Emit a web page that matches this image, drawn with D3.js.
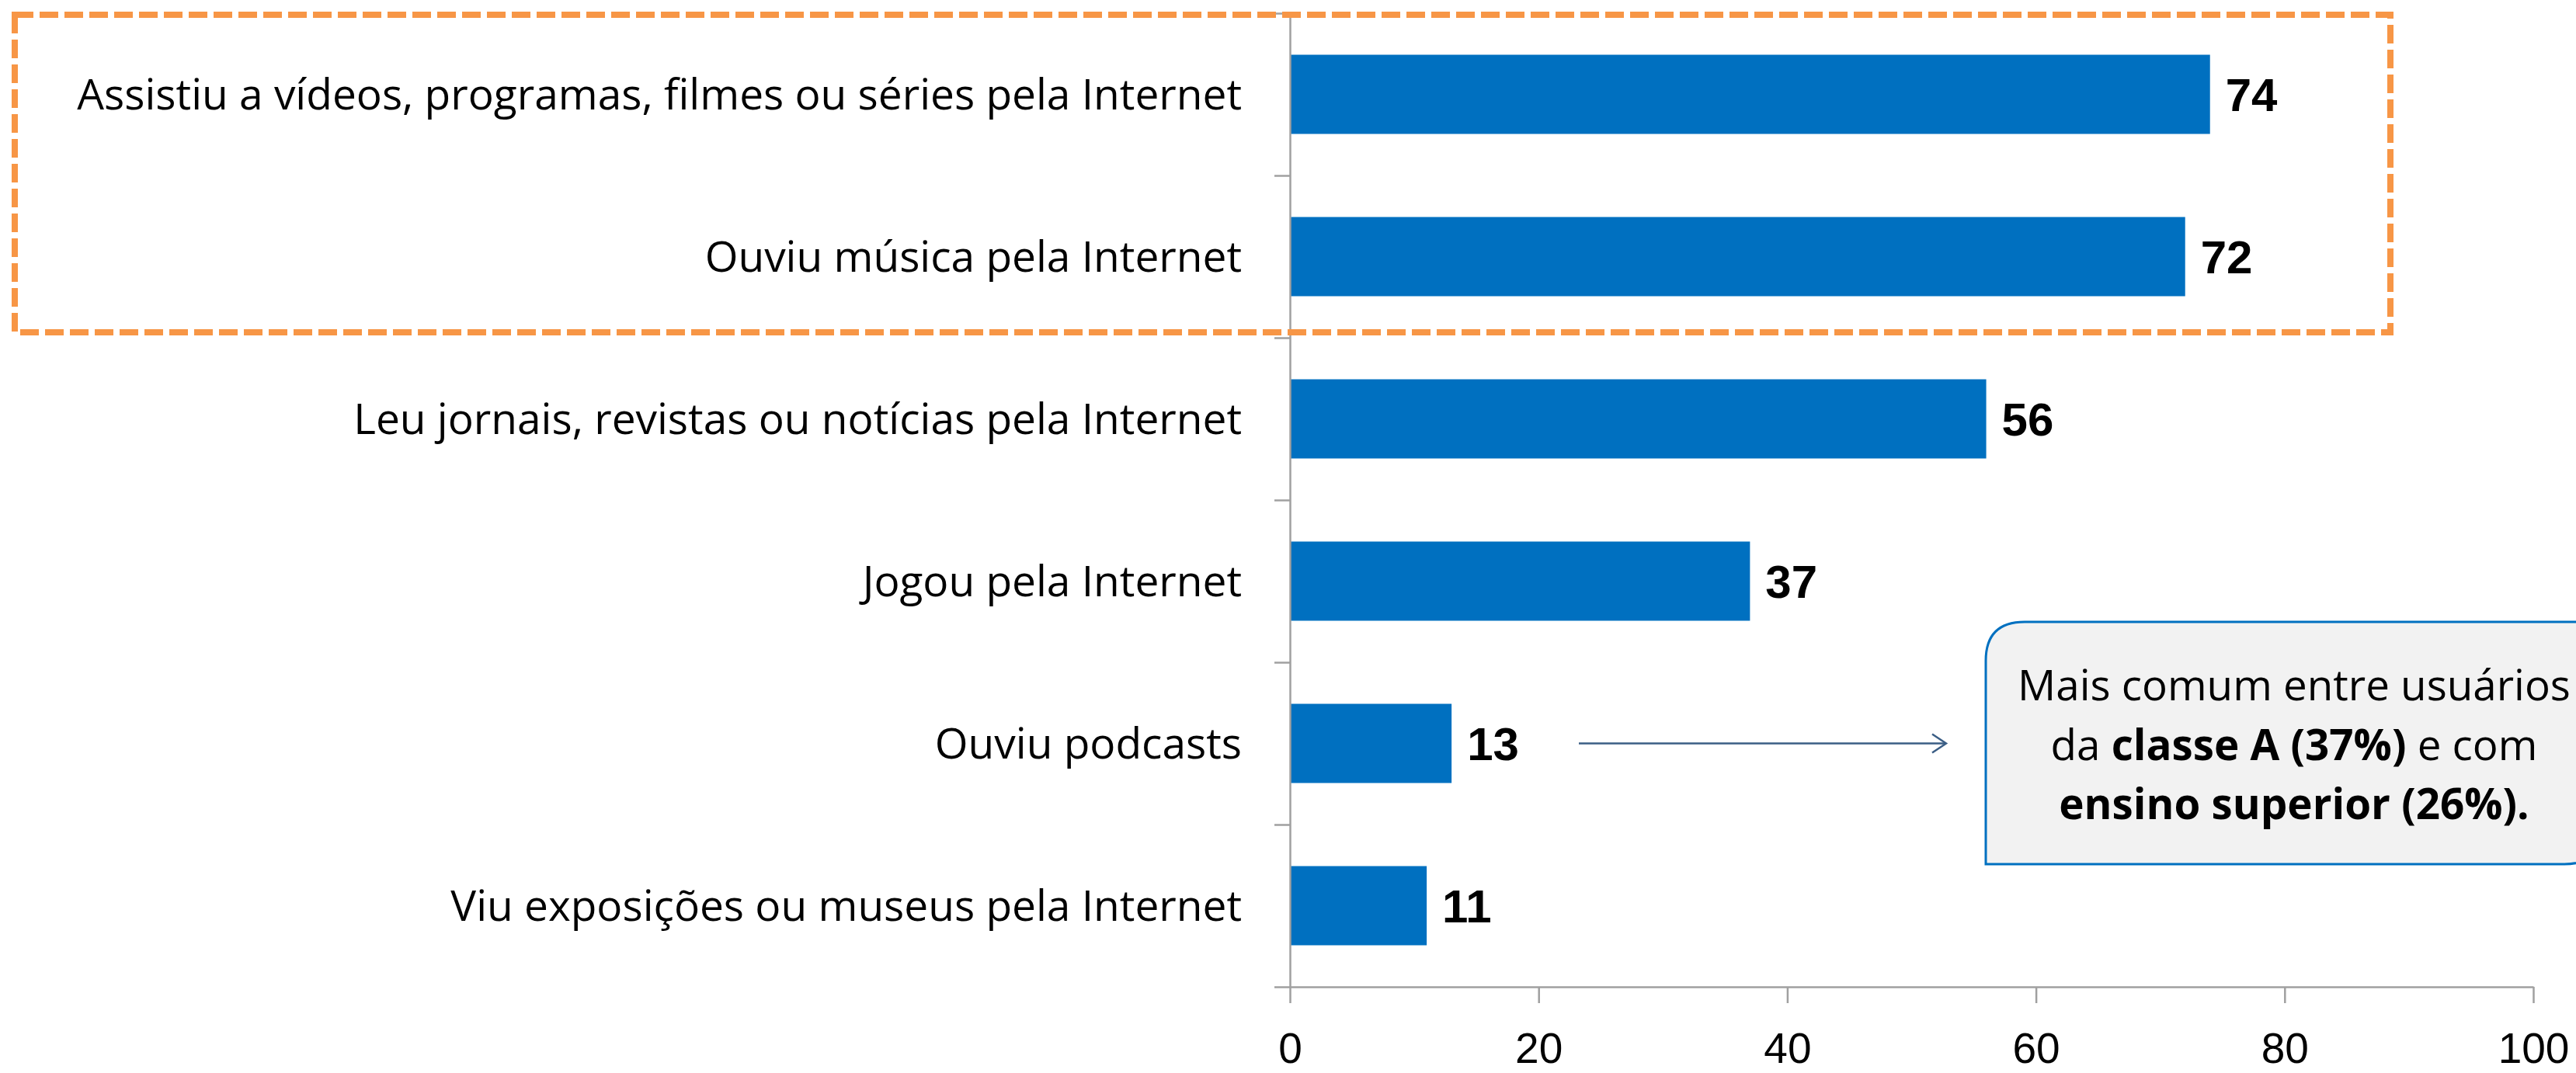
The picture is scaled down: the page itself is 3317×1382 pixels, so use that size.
<!DOCTYPE html>
<html>
<head>
<meta charset="utf-8">
<script src="https://cdn.jsdelivr.net/npm/d3@7"></script>
<style>
html,body{margin:0;padding:0;background:#fff;}
svg{display:block;}
</style>
</head>
<body>
<svg id="chart" width="3317" height="1382"></svg>
<script>
const categories = [
  "Assistiu a vídeos, programas, filmes ou séries pela Internet",
  "Ouviu música pela Internet",
  "Leu jornais, revistas ou notícias pela Internet",
  "Jogou pela Internet",
  "Ouviu podcasts",
  "Viu exposições ou museus pela Internet"
];
const values = [74, 72, 56, 37, 13, 11];
const xTicks = [0, 20, 40, 60, 80, 100];
const noteTarget = "Ouviu podcasts";
const noteLines = [
  [{t: "Mais comum entre usuários", b: false}],
  [{t: "da ", b: false}, {t: "classe A (37%)", b: true}, {t: " e com", b: false}],
  [{t: "ensino superior (26%).", b: true}]
];

(function () {
const svg = d3.select("#chart");
const plotTop = 17, plotBottom = 1271;

const x = d3.scaleLinear().domain([0, 100]).range([1661, 3262]);
const y = d3.scaleBand().domain(categories).range([plotTop, plotBottom])
  .paddingInner(0.512).paddingOuter(0.256);
const yEdge = d3.scaleLinear().domain([0, categories.length]).range([plotTop, plotBottom]);

const axisColor = "#a0a0a0";

// bars
svg.append("g").selectAll("rect").data(categories).join("rect")
  .attr("x", x(0))
  .attr("y", d => y(d))
  .attr("width", (d, i) => x(values[i]) - x(0))
  .attr("height", y.bandwidth())
  .attr("fill", "#0070C0");

// y axis (ticks at category boundaries)
const yAxis = svg.append("g").attr("transform", `translate(${x(0)},0)`)
  .call(d3.axisLeft(yEdge).tickValues(d3.range(categories.length + 1)).tickSize(20).tickSizeOuter(0).tickFormat(""));
yAxis.selectAll("path,line").attr("stroke", axisColor).attr("stroke-width", 2.5);

// x axis
const xAxis = svg.append("g").attr("transform", `translate(0,${plotBottom})`)
  .call(d3.axisBottom(x).tickValues(xTicks).tickSize(21).tickSizeOuter(0).tickFormat(d3.format("d")));
xAxis.selectAll("path,line").attr("stroke", axisColor).attr("stroke-width", 2.5);
xAxis.selectAll("text")
  .attr("y", 98).attr("dy", 0)
  .attr("font-family", "'Liberation Sans', Arial, sans-serif")
  .attr("font-size", 55).attr("fill", "#000");

// category labels
const catText = svg.append("g").selectAll("text").data(categories).join("text")
  .attr("x", x(0) - 62)
  .attr("y", d => y(d) + y.bandwidth() / 2)
  .attr("dy", "0.35em")
  .attr("text-anchor", "end")
  .attr("font-family", "'Open Sans', 'Noto Sans', sans-serif")
  .attr("font-size", 100)
  .attr("fill", "#000")
  .text(d => d);
let maxW = 0;
catText.each(function(){ maxW = Math.max(maxW, this.getComputedTextLength()); });
catText.attr("font-size", 100 * 1500 / maxW);

// value labels
svg.append("g").selectAll("text").data(categories).join("text")
  .attr("x", (d, i) => x(values[i]) + 20)
  .attr("y", d => y(d) + y.bandwidth() / 2)
  .attr("dy", "0.36em")
  .attr("font-family", "'Liberation Sans', Arial, sans-serif")
  .attr("font-weight", "bold")
  .attr("font-size", 60)
  .attr("fill", "#000")
  .text((d, i) => values[i]);

// orange dashed highlight box
svg.append("rect")
  .attr("x", 19).attr("y", 19)
  .attr("width", 3078 - 19).attr("height", 428 - 19)
  .attr("fill", "none")
  .attr("stroke", "#F79646")
  .attr("stroke-width", 8)
  .attr("stroke-dasharray", "24 8");

// arrow
const ay = y(noteTarget) + y.bandwidth() / 2;
svg.append("line")
  .attr("x1", 2033).attr("y1", ay).attr("x2", 2504).attr("y2", ay)
  .attr("stroke", "#3B5E85").attr("stroke-width", 2.5);
svg.append("path")
  .attr("d", `M2488,${ay - 12} L2506,${ay} L2488,${ay + 12}`)
  .attr("fill", "none").attr("stroke", "#3B5E85").attr("stroke-width", 2.5);

// note box (round diagonal corners)
const bx0 = 2557, by0 = 801, bx1 = 3352, by1 = 1113, r = 50;
svg.append("path")
  .attr("d", `M${bx0},${by0 + r} Q${bx0},${by0} ${bx0 + r},${by0} L${bx1},${by0} L${bx1},${by1 - r} Q${bx1},${by1} ${bx1 - r},${by1} L${bx0},${by1} Z`)
  .attr("fill", "#F2F2F2")
  .attr("stroke", "#0070C0")
  .attr("stroke-width", 3);

const noteText = svg.append("text")
  .attr("text-anchor", "middle")
  .attr("font-family", "'Open Sans', 'Noto Sans', sans-serif")
  .attr("font-size", 100)
  .attr("fill", "#000");
const baselines = [902, 979, 1055];
noteLines.forEach((line, li) => {
  const t = noteText.append("tspan").attr("x", 2954).attr("y", baselines[li]);
  line.forEach(seg => {
    t.append("tspan").attr("font-weight", seg.b ? "bold" : "normal").text(seg.t);
  });
});
const firstW = noteText.select("tspan").node().getComputedTextLength();
noteText.attr("font-size", 100 * 712 / firstW);
})();
</script>
</body>
</html>
